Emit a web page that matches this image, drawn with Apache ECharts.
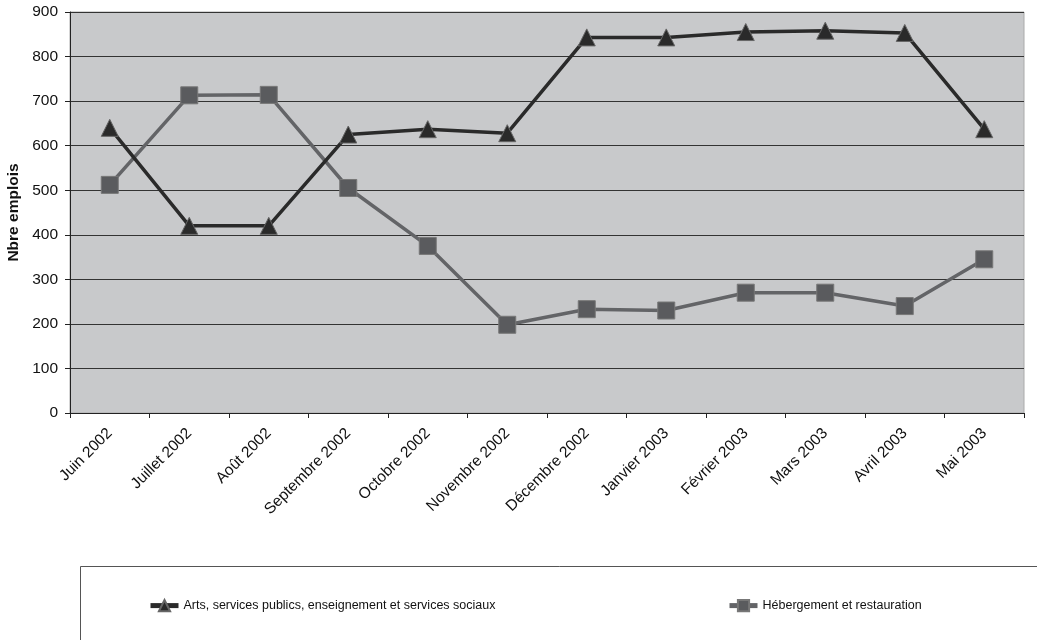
<!DOCTYPE html>
<html>
<head>
<meta charset="utf-8">
<script src="https://cdn.jsdelivr.net/npm/echarts@6/dist/echarts.min.js"></script>
<style>html,body{margin:0;padding:0;background:#fff;}#c{width:1037px;height:640px;}</style>
</head>
<body>
<div id="c"></div>
<script>
const categories = ['Juin 2002','Juillet 2002','Août 2002','Septembre 2002','Octobre 2002','Novembre 2002','Décembre 2002','Janvier 2003','Février 2003','Mars 2003','Avril 2003','Mai 2003'];
const artsValues = [640, 420, 420, 625, 637, 628, 843, 843, 855, 858, 853, 637];
const hebergementValues = [512, 713, 714, 505, 375, 198, 233, 230, 270, 270, 240, 345];
const seriesNames = ['Arts, services publics, enseignement et services sociaux', 'Hébergement et restauration'];
const yTicks = [0, 100, 200, 300, 400, 500, 600, 700, 800, 900];

const font = 'Liberation Sans, Arial, sans-serif';
const chart = echarts.init(document.getElementById('c'), null, {renderer: 'canvas'});
chart.setOption({
  animation: false,
  backgroundColor: '#fff',
  graphic: [{
    type: 'rect', left: 78, top: 564,
    shape: {x: 0, y: 0, width: 1000, height: 100},
    style: {fill: 'none', stroke: '#555', lineWidth: 1}
  }],
  grid: {left: 70, right: 13, top: 12, bottom: 227, show: true, backgroundColor: '#c8c9cb', borderColor: '#aaa', borderWidth: 1,
         containLabel: false, outerBoundsMode: 'none'},
  legend: [{
    data: [seriesNames[0]], left: 148, top: 599, padding: 0, itemWidth: 28, itemHeight: 14, itemGap: 2,
    lineStyle: {width: 5},
    textStyle: {fontFamily: font, fontSize: 12.5, color: '#111'}
  }, {
    data: [seriesNames[1]], left: 727, top: 599, padding: 0, itemWidth: 28, itemHeight: 14,
    lineStyle: {width: 5},
    textStyle: {fontFamily: font, fontSize: 12.5, color: '#111'}
  }],
  xAxis: {
    type: 'category', data: categories, boundaryGap: true,
    axisLine: {lineStyle: {color: '#222', width: 1}},
    axisTick: {show: true, length: 5, lineStyle: {color: '#222'}},
    axisLabel: {rotate: 45, fontFamily: font, fontSize: 15.5, color: '#111', margin: 18, interval: 0}
  },
  yAxis: {
    type: 'value', min: yTicks[0], max: yTicks[yTicks.length - 1], interval: 100,
    name: 'Nbre emplois', nameLocation: 'middle', nameGap: 46,
    nameTextStyle: {fontFamily: font, fontSize: 15.5, fontWeight: 'bold', color: '#111'},
    axisLine: {show: true, lineStyle: {color: '#222'}},
    axisTick: {show: true, length: 5, lineStyle: {color: '#222'}},
    axisLabel: {fontFamily: font, fontSize: 15.5, color: '#111', margin: 12},
    splitLine: {lineStyle: {color: '#333', width: 1}}
  },
  series: [{
    name: seriesNames[0], type: 'line', data: artsValues,
    symbol: 'triangle', symbolSize: 17,
    lineStyle: {color: '#2a2a2a', width: 3.5},
    itemStyle: {color: '#2a2a2a', borderColor: '#666', borderWidth: 1},
    z: 3
  }, {
    name: seriesNames[1], type: 'line', data: hebergementValues,
    symbol: 'rect', symbolSize: 17,
    lineStyle: {color: '#636467', width: 3.5},
    itemStyle: {color: '#5a5b5e', borderColor: '#777', borderWidth: 1},
    z: 2
  }]
});
</script>
</body>
</html>
